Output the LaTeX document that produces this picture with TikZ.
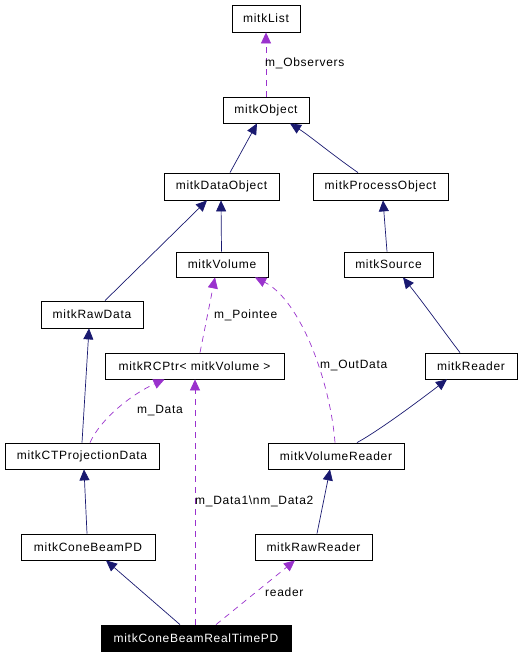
\documentclass[tikz,border=0pt]{standalone}
\usepackage{fontspec}
\setmainfont{Liberation Sans}[LetterSpace=6]
\usetikzlibrary{arrows.meta}
\definecolor{navyc}{HTML}{191970}
\definecolor{orchidc}{HTML}{9A32CD}
\begin{document}
\begin{tikzpicture}[x=1pt,y=-1pt,
  cls/.style={draw=black, line width=0.8pt, fill=white, rectangle, inner sep=0pt,
    font=\fontsize{12}{14}\selectfont},
  focus/.style={cls, fill=black, text=white},
  inh/.style={draw=navyc, line width=0.7pt, -{Triangle[length=11pt,width=10pt]}},
  usearrow/.style={draw=orchidc, line width=0.7pt, dash pattern=on 6pt off 5pt,
    -{Triangle[length=11pt,width=10pt]}},
  lbl/.style={anchor=west, inner sep=0pt, font=\fontsize{12}{14}\selectfont}]
\useasboundingbox (0,0) rectangle (521,656);
% classes
\node[cls, minimum width=68pt, minimum height=27pt] (list) at (266,18.5) {mitkList};
\node[cls, minimum width=86pt, minimum height=26pt] (obj) at (266,110) {mitkObject};
\node[cls, minimum width=115pt, minimum height=27pt] (dobj) at (221.5,186.5) {mitkDataObject};
\node[cls, minimum width=135pt, minimum height=27pt] (pobj) at (380.5,186.5) {mitkProcessObject};
\node[cls, minimum width=92pt, minimum height=25pt] (vol) at (222,264.5) {mitkVolume};
\node[cls, minimum width=89pt, minimum height=25pt] (src) at (388.5,264.5) {mitkSource};
\node[cls, minimum width=102pt, minimum height=27pt] (raw) at (92,314.5) {mitkRawData};
\node[cls, minimum width=179pt, minimum height=26pt] (rcp) at (194.5,366) {mitkRCPtr< mitkVolume >};
\node[cls, minimum width=92pt, minimum height=26pt] (rdr) at (471,366) {mitkReader};
\node[cls, minimum width=154pt, minimum height=26pt] (ctp) at (82,456) {mitkCTProjectionData};
\node[cls, minimum width=136pt, minimum height=26pt] (vrd) at (336,456) {mitkVolumeReader};
\node[cls, minimum width=134pt, minimum height=26pt] (cbp) at (88,547) {mitkConeBeamPD};
\node[cls, minimum width=117pt, minimum height=26pt] (rrd) at (313.5,547) {mitkRawReader};
\node[focus, minimum width=190pt, minimum height=26pt] (rtp) at (196,638) {mitkConeBeamRealTimePD};
% edges
\draw[usearrow] (obj.north) -- (list.south);
\node[lbl] (lobs) at (265,63) {m\_Observers};
\draw[inh] ([xshift=8.5pt]dobj.north) -- ([xshift=-9pt]obj.south);
\draw[inh] ([xshift=-22.5pt]pobj.north) .. controls (330,153) and (310,136) .. ([xshift=24pt]obj.south);
\draw[inh] ([xshift=13pt]raw.north) -- ([xshift=-14.5pt]dobj.south);
\draw[inh] ([xshift=-0.5pt]vol.north) -- ([xshift=-0.5pt]dobj.south);
\draw[inh] ([xshift=-1.5pt]src.north) -- ([xshift=2.5pt]pobj.south);
\draw[inh] ([xshift=-11pt]rdr.north) .. controls (445,333) and (425,305) .. ([xshift=14.5pt]src.south);
\draw[inh] (ctp.north) -- ([xshift=-3pt]raw.south);
\draw[usearrow] ([xshift=5.5pt]rcp.north) -- ([xshift=-7pt]vol.south);
\node[lbl] (lpt) at (214,315) {m\_Pointee};
\draw[usearrow] ([xshift=-1pt]vrd.north) .. controls (330,380) and (300,300) .. ([xshift=33pt]vol.south);
\node[lbl] (lout) at (320,365) {m\_OutData};
\draw[inh] ([xshift=21pt]vrd.north) .. controls (380,430) and (420,400) .. ([xshift=-24pt]rdr.south);
\draw[usearrow] ([xshift=8pt]ctp.north) .. controls (100,420) and (130,395) .. ([xshift=-30pt]rcp.south);
\node[lbl] (ldat) at (137,411) {m\_Data};
\draw[usearrow] ([xshift=-1pt]rtp.north) -- ([xshift=0.5pt]rcp.south);
\node[lbl] (ld12) at (195,501) {m\_Data1\textbackslash nm\_Data2};
\draw[inh] ([xshift=-1pt]cbp.north) -- ([xshift=2pt]ctp.south);
\draw[inh] ([xshift=3.5pt]rrd.north) -- ([xshift=-6pt]vrd.south);
\draw[inh] ([xshift=-16pt]rtp.north) -- ([xshift=18pt]cbp.south);
\draw[usearrow] ([xshift=20pt]rtp.north) -- ([xshift=-18.5pt]rrd.south);
\node[lbl] (lrd) at (265,592) {reader};
\end{tikzpicture}
\end{document}
